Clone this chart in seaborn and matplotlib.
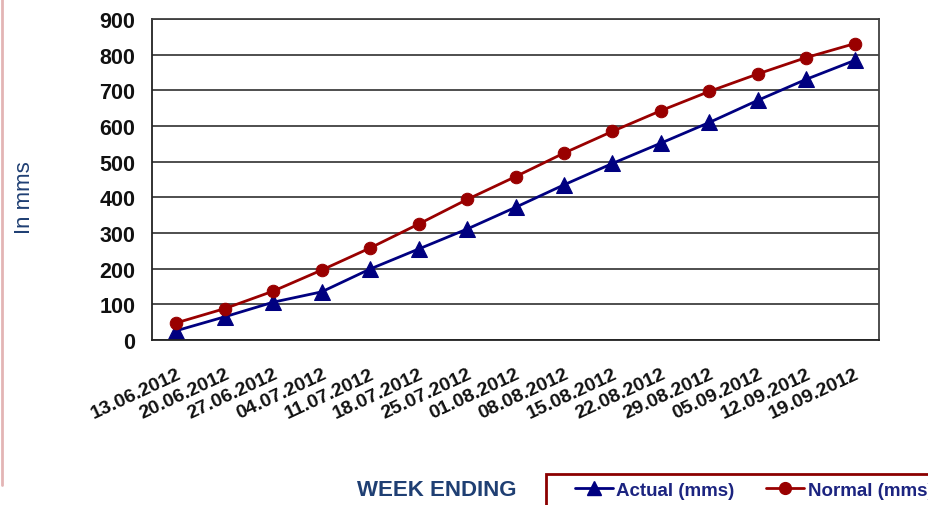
import numpy as np
import pandas as pd
import matplotlib
matplotlib.use('Agg')
import matplotlib.pyplot as plt
import seaborn as sns
from matplotlib.lines import Line2D
from matplotlib.patches import Rectangle

weeks = ['13.06.2012', '20.06.2012', '27.06.2012', '04.07.2012', '11.07.2012',
         '18.07.2012', '25.07.2012', '01.08.2012', '08.08.2012', '15.08.2012',
         '22.08.2012', '29.08.2012', '05.09.2012', '12.09.2012', '19.09.2012']
actual = [26, 65, 106, 135, 199, 255, 311, 372, 435, 495, 552, 610, 672, 731, 784]
normal = [48, 88, 137, 196, 258, 325, 394, 458, 524, 585, 643, 697, 746, 792, 831]
y_ticks = [0, 100, 200, 300, 400, 500, 600, 700, 800, 900]

BLUE = '#000080'
RED = '#990000'
TEXT_BLUE = '#1F3F73'
LEG_BLUE = '#1C2480'

sns.set_style('white')
plt.rcParams['font.family'] = ['Liberation Sans', 'DejaVu Sans']

df_act = pd.DataFrame({'week': weeks, 'value': actual})
df_nor = pd.DataFrame({'week': weeks, 'value': normal})

W, H = 929, 506
fig = plt.figure(figsize=(W / 100, H / 100), dpi=100)
ax = fig.add_axes([152 / W, 1 - 341 / H, (879 - 152) / W, (341 - 20) / H])

ax.yaxis.grid(True, color='#404040', linewidth=1.3)
ax.set_axisbelow(True)

sns.lineplot(data=df_act, x='week', y='value', ax=ax, color=BLUE, linewidth=2,
             marker='^', markersize=11.5, markeredgecolor=BLUE, sort=False)
sns.lineplot(data=df_nor, x='week', y='value', ax=ax, color=RED, linewidth=2,
             marker='o', markersize=9, markeredgecolor=RED, sort=False)

ax.set_xlim(-0.5, len(weeks) - 0.5)
ax.set_ylim(0, 900)
ax.set_yticks(y_ticks)
ax.set_yticklabels([str(v) for v in y_ticks], fontsize=15.5, fontweight='bold',
                   color='#111111')
ax.tick_params(axis='y', length=7, width=1, color='#222222', pad=5)

ax.set_xticks(range(len(weeks)))
ax.set_xticklabels(weeks, rotation=25, ha='right', va='top', rotation_mode='anchor',
                   fontsize=14, fontweight='bold', color='#111111')
ax.tick_params(axis='x', which='major', length=0, pad=18)
ax.set_xticks(np.arange(-0.5, len(weeks), 1), minor=True)
ax.tick_params(axis='x', which='minor', length=6, width=1, color='#222222')

for side in ['left', 'bottom', 'right', 'top']:
    ax.spines[side].set_visible(True)
    ax.spines[side].set_color('#404040')
    ax.spines[side].set_linewidth(1.3)
ax.spines['left'].set_color('#222222')
ax.spines['bottom'].set_color('#222222')

ax.set_xlabel('')
ax.set_ylabel('')
fig.text(25 / W, 1 - 198 / H, 'In mms', fontsize=16, color=TEXT_BLUE,
         rotation=90, ha='center', va='center')

fig.text(437 / W, 1 - 491 / H, 'WEEK ENDING', fontsize=16, fontweight='bold',
         color=TEXT_BLUE, ha='center', va='center')

# legend box (runs off the right edge like the original)
fig.add_artist(Rectangle((546 / W, -0.05), 0.5, 1 - 475 / H + 0.05,
                         transform=fig.transFigure, facecolor='white',
                         edgecolor='#8B0000', linewidth=2))

handles = [Line2D([], [], color=BLUE, linewidth=2, marker='^', markersize=10),
           Line2D([], [], color=RED, linewidth=2, marker='o', markersize=8.5)]
leg = fig.legend(handles, ['Actual (mms)', 'Normal (mms)'], ncol=2,
                 loc='center left', bbox_to_anchor=(560 / W, 1 - 491 / H),
                 frameon=False, handlelength=2.0, handletextpad=0.2,
                 columnspacing=1.7, borderpad=0.3,
                 prop={'size': 13.5, 'weight': 'bold'})
for t in leg.get_texts():
    t.set_color(LEG_BLUE)

# slide frame on the left edge
fig.add_artist(Line2D([0.002, 0.002], [0.04, 1.0], transform=fig.transFigure,
                      color='#E3B5B5', linewidth=2))

fig.savefig('out.png', dpi=100)
